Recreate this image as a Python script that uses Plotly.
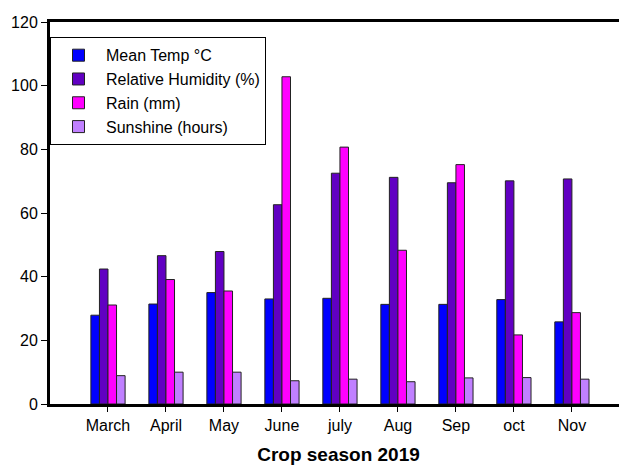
import plotly.graph_objects as go

months = ["March", "April", "May", "June", "july", "Aug", "Sep", "oct", "Nov"]
mean_temp = [27.9, 31.4, 35.0, 33.0, 33.2, 31.3, 31.3, 32.8, 25.8]
rel_humidity = [42.4, 46.6, 47.9, 62.6, 72.5, 71.2, 69.5, 70.1, 70.7]
rain = [31.1, 39.1, 35.5, 102.8, 80.7, 48.3, 75.2, 21.7, 28.7]
sunshine = [8.9, 10.0, 10.0, 7.3, 7.8, 7.0, 8.2, 8.3, 7.8]

series = [
    ("Mean Temp °C", mean_temp, "#0000FF"),
    ("Relative Humidity (%)", rel_humidity, "#6100C2"),
    ("Rain (mm)", rain, "#FF00FF"),
    ("Sunshine (hours)", sunshine, "#C080FF"),
]

fig = go.Figure()
for name, vals, col in series:
    fig.add_trace(go.Bar(
        x=months, y=vals, name=name,
        marker=dict(color=col, line=dict(color="#222222", width=1)),
    ))

font = "Liberation Sans, Arial, sans-serif"
fig.update_layout(
    width=619, height=457,
    margin=dict(l=42, r=0, t=14, b=61),
    paper_bgcolor="white", plot_bgcolor="white",
    barmode="group", bargap=0.41, bargroupgap=0,
    font=dict(family=font, size=16, color="black"),
    showlegend=True,
    legend=dict(
        x=0.0, y=0.96, xanchor="left", yanchor="top",
        bordercolor="black", borderwidth=1, bgcolor="white",
        font=dict(size=16), tracegroupgap=0, itemwidth=45,
    ),
    xaxis=dict(
        type="category", range=[-1, 8.95], automargin=False,
        showline=True, linewidth=3, linecolor="black", mirror=True,
        ticks="outside", ticklen=5, tickwidth=1, tickcolor="black",
        showgrid=False, zeroline=False, tickfont=dict(size=16),
        title=dict(text="<b>Crop season 2019</b>", font=dict(size=19), standoff=21),
    ),
    yaxis=dict(
        range=[0, 120], dtick=20, automargin=False,
        showline=True, linewidth=3, linecolor="black",
        ticks="outside", ticklen=6, tickwidth=1, tickcolor="black",
        showgrid=False, zeroline=False, tickfont=dict(size=16),
    ),
)

fig.write_html("out.html")
